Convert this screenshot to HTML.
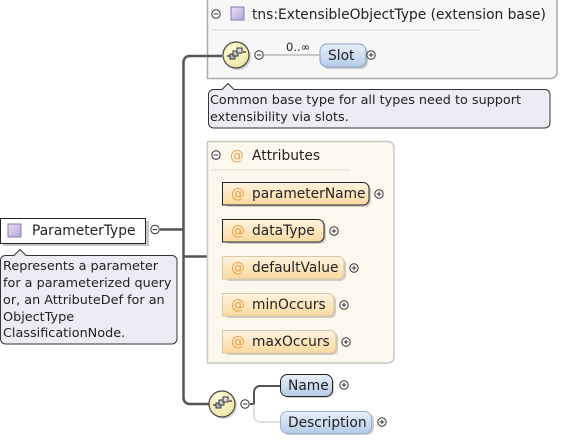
<!DOCTYPE html>
<html><head><style>
html,body{margin:0;padding:0;background:#fff;}
svg{display:block;font-family:"DejaVu Sans","Liberation Sans",sans-serif;font-size:13.8px;}
</style></head><body>
<svg width="569" height="440" xmlns="http://www.w3.org/2000/svg">
<defs>
<linearGradient id="blue" x1="0" y1="0" x2="0" y2="1"><stop offset="0" stop-color="#e8f0fb"/><stop offset="1" stop-color="#b5cbe9"/></linearGradient>
<linearGradient id="org" x1="0" y1="0" x2="0" y2="1"><stop offset="0" stop-color="#fff4e0"/><stop offset="1" stop-color="#fbd9a0"/></linearGradient>
<radialGradient id="yel" cx="0.4" cy="0.35" r="0.7"><stop offset="0" stop-color="#fffde0"/><stop offset="1" stop-color="#ece3a0"/></radialGradient>
<linearGradient id="purp" x1="0" y1="0" x2="1" y2="1"><stop offset="0" stop-color="#e8e0f4"/><stop offset="1" stop-color="#b6a6d6"/></linearGradient>
<g id="plus"><circle r="4.2" fill="#fff" stroke="#333" stroke-width="1"/><path d="M-2.3 0h4.6M0 -2.3v4.6" stroke="#333" stroke-width="1"/></g>
<g id="minus"><circle r="4.2" fill="#fff" stroke="#333" stroke-width="1"/><path d="M-2.3 0h4.6" stroke="#333" stroke-width="1"/></g>
<g id="seq"><circle r="13" fill="#888" opacity="0.35" cx="2" cy="2"/><circle r="13" fill="url(#yel)" stroke="#444" stroke-width="1.2"/>
<path d="M-9 1h3M7 -3h3" stroke="#333" stroke-width="1.2"/><rect x="-6" y="-1" width="5" height="5" fill="#bbb" stroke="#333"/><rect x="-3" y="-4" width="5" height="5" fill="#ccc" stroke="#333"/><rect x="1" y="-7" width="5" height="5" fill="#ddd" stroke="#333"/></g>
</defs>

<path d="M207.5 0V78.5H551a6 6 0 0 0 6-6V0" fill="#f7f7f7" stroke="#aaa" stroke-width="1.5"/>
<use href="#minus" x="216" y="14"/>
<rect x="231" y="7" width="13" height="13" fill="url(#purp)" stroke="#8a7ab0"/>
<text x="252" y="19" fill="#222">tns:ExtensibleObjectType (extension base)</text>
<path d="M211 30H480" stroke="#e2e2e2" stroke-width="1.5"/>

<path d="M160 229.5H183.5M183.5 62a6 6 0 0 1 6-6H222M183.5 62V398a6 6 0 0 0 6 6H209M183.5 256.5H207" fill="none" stroke="#555" stroke-width="2.5"/>

<use href="#seq" x="236" y="55"/>
<use href="#minus" x="259" y="55"/>
<path d="M264 55H320" stroke="#999" stroke-width="1"/>
<text x="286" y="51" font-size="11.5" fill="#222">0..∞</text>
<rect x="322" y="46" width="46" height="23" rx="7" fill="#888" opacity="0.4"/>
<rect x="320" y="44" width="46" height="23" rx="7" fill="url(#blue)" stroke="#8aa0bf"/>
<text x="328" y="60" fill="#222">Slot</text>
<use href="#plus" x="371" y="55"/>

<path d="M213.5 89.5H222l6-6 6 6H545a5 5 0 0 1 5 5V123a5 5 0 0 1-5 5H213.5a5 5 0 0 1-5-5V94.5a5 5 0 0 1 5-5z" fill="#edebf3" stroke="#333"/>
<text x="210" y="104" font-size="12.8" fill="#222">Common base type for all types need to support</text>
<text x="210" y="121" font-size="12.8" fill="#222">extensibility via slots.</text>

<path d="M207.5 141.5H388a6 6 0 0 1 6 6V357a6 6 0 0 1-6 6H207.5z" fill="#fdf8ee" stroke="#c8c8c8" stroke-width="1.5"/>
<use href="#minus" x="216" y="155"/>
<text x="230" y="160" fill="#e8a040">@</text>
<text x="252" y="160" fill="#222">Attributes</text>
<path d="M211 170H350" stroke="#ece6da" stroke-width="1.5"/>

<rect x="224" y="184" width="147" height="23" rx="6" fill="#888" opacity="0.4"/>
<path d="M222.5 182.5H363a6 6 0 0 1 6 6V199a6 6 0 0 1-6 6H222.5z" fill="url(#org)" stroke="#222"/>
<text x="231" y="198" fill="#e8a040">@</text><text x="252" y="198" fill="#222">parameterName</text>
<use href="#plus" x="379" y="194"/>

<rect x="224" y="221" width="102" height="23" rx="6" fill="#888" opacity="0.4"/>
<path d="M222.5 219.5H318a6 6 0 0 1 6 6V236a6 6 0 0 1-6 6H222.5z" fill="url(#org)" stroke="#222"/>
<text x="231" y="235" fill="#e8a040">@</text><text x="252" y="235" fill="#222">dataType</text>
<use href="#plus" x="334" y="231"/>

<rect x="224" y="258" width="122" height="23" rx="6" fill="#888" opacity="0.4"/>
<path d="M222.5 256.5H338a6 6 0 0 1 6 6V273a6 6 0 0 1-6 6H222.5z" fill="url(#org)" stroke="#d8c8a8"/>
<text x="231" y="272" fill="#e8a040">@</text><text x="252" y="272" fill="#222">defaultValue</text>
<use href="#plus" x="354" y="268"/>

<rect x="224" y="295" width="112" height="23" rx="6" fill="#888" opacity="0.4"/>
<path d="M222.5 293.5H328a6 6 0 0 1 6 6V310a6 6 0 0 1-6 6H222.5z" fill="url(#org)" stroke="#d8c8a8"/>
<text x="231" y="309" fill="#e8a040">@</text><text x="252" y="309" fill="#222">minOccurs</text>
<use href="#plus" x="344" y="305"/>

<rect x="224" y="332" width="114" height="23" rx="6" fill="#888" opacity="0.4"/>
<path d="M222.5 330.5H330a6 6 0 0 1 6 6V347a6 6 0 0 1-6 6H222.5z" fill="url(#org)" stroke="#d8c8a8"/>
<text x="231" y="346" fill="#e8a040">@</text><text x="252" y="346" fill="#222">maxOccurs</text>
<use href="#plus" x="346" y="342"/>

<rect x="3" y="221" width="146" height="25" fill="#888" opacity="0.45"/>
<rect x="0.5" y="218.5" width="145" height="25" fill="#fff" stroke="#222"/>
<rect x="8" y="224" width="13" height="13" fill="url(#purp)" stroke="#8a7ab0"/>
<text x="32" y="235" fill="#222">ParameterType</text>
<use href="#minus" x="155" y="229.5"/>

<path d="M5.5 255.5H14l6-6 6 6H172a5 5 0 0 1 5 5V339a5 5 0 0 1-5 5H5.5a5 5 0 0 1-5-5V260.5a5 5 0 0 1 5-5z" fill="#edebf3" stroke="#333"/>
<text x="3" y="270" font-size="12.8" fill="#222">Represents a parameter</text>
<text x="3" y="287" font-size="12.8" fill="#222">for a parameterized query</text>
<text x="3" y="304" font-size="12.8" fill="#222">or, an AttributeDef for an</text>
<text x="3" y="321" font-size="12.8" fill="#222">ObjectType</text>
<text x="3" y="337" font-size="12.8" fill="#222">ClassificationNode.</text>

<use href="#seq" x="222" y="404"/>
<use href="#minus" x="245" y="404"/>
<path d="M250 404H254V392a6 6 0 0 1 6-6H280" fill="none" stroke="#555" stroke-width="2"/>
<path d="M254 404V416a6 6 0 0 0 6 6H280" fill="none" stroke="#ccc" stroke-width="1.2"/>
<rect x="282" y="376" width="52" height="22" rx="7" fill="#888" opacity="0.4"/>
<rect x="280.5" y="374.5" width="52" height="22" rx="7" fill="url(#blue)" stroke="#222"/>
<text x="288" y="390" fill="#222">Name</text>
<use href="#plus" x="344" y="385"/>
<rect x="282" y="413" width="92" height="22" rx="7" fill="#888" opacity="0.4"/>
<rect x="280.5" y="411.5" width="91" height="22" rx="7" fill="url(#blue)" stroke="#9ab0cc"/>
<text x="288" y="427" fill="#222">Description</text>
<use href="#plus" x="382" y="422"/>
</svg>
</body></html>
